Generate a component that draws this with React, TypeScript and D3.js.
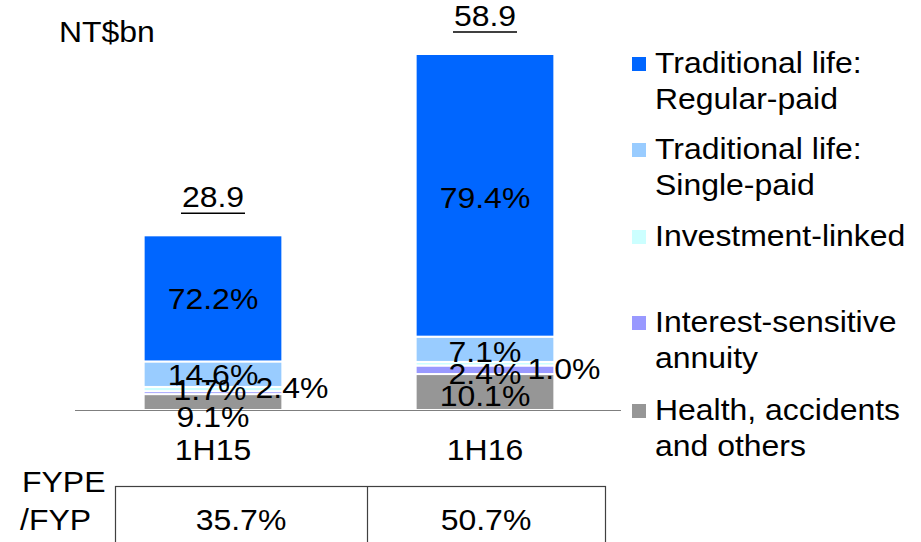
import React from "react"
import * as d3 from "d3"

const categories = ["1H15", "1H16"]
const totals = [28.9, 58.9]
const fypeRatio = ["35.7%", "50.7%"]

// shares of each half-year total, in %
const health = [9.1, 10.1]
const interestSensitive = [1.7, 2.4]
const investmentLinked = [2.4, 1.0]
const singlePaid = [14.6, 7.1]
const regularPaid = [72.2, 79.4]

const seriesKeys = ["health", "interest", "investment", "single", "regular"]
const seriesShares: Record<string, number[]> = {
  health,
  interest: interestSensitive,
  investment: investmentLinked,
  single: singlePaid,
  regular: regularPaid,
}
const colors: Record<string, string> = {
  regular: "#0066ff",
  single: "#99ccff",
  investment: "#ccffff",
  interest: "#9999ff",
  health: "#969696",
}
const legendItems = [
  { key: "regular", lines: ["Traditional life:", "Regular-paid"] },
  { key: "single", lines: ["Traditional life:", "Single-paid"] },
  { key: "investment", lines: ["Investment-linked"] },
  { key: "interest", lines: ["Interest-sensitive", "annuity"] },
  { key: "health", lines: ["Health, accidents", "and others"] },
]

// small nudges where labels of thin segments were moved off the bar
const labelNudge: Record<string, [number, number][]> = {
  health: [[0, 14], [0, 3]],
  interest: [[-3, -3], [0, 3]],
  investment: [[79, -2], [79, 4]],
  single: [[0, 0], [0, 2]],
  regular: [[0, 0], [0, 2]],
}

const font = "'Liberation Sans', Arial, sans-serif"
const fs = 30
// the original text is a little wider than Arial at this size
const stretch = 1.065

function T({ x, y, anchor = "start", dy, children }: any) {
  return (
    <text
      transform={`translate(${x},${y}) scale(${stretch},1)`}
      textAnchor={anchor}
      dy={dy}
      fontSize={fs}
    >
      {children}
    </text>
  )
}

export default function App() {
  const W = 921
  const H = 542
  const baseY = 410

  const x = d3.scaleBand().domain(categories).range([77, 621]).paddingInner(0.49).paddingOuter(0.245)
  const y = d3.scaleLinear().domain([0, 58.9]).range([baseY, 54])

  const rows = categories.map((c, i) => {
    const r: any = { cat: c }
    seriesKeys.forEach(k => { r[k] = (seriesShares[k][i] / 100) * totals[i] })
    return r
  })
  const stacked = d3.stack().keys(seriesKeys)(rows)

  return (
    <svg width={W} height={H} style={{ position: "absolute", left: 0, top: 0, fontFamily: font }}>
      <rect width={W} height={H} fill="#fff" />
      <T x={59} y={42}>NT$bn</T>

      {stacked.map(s => (
        <g key={s.key}>
          {s.map((d, i) => (
            <rect
              key={i}
              x={x(categories[i])}
              y={y(d[1])}
              width={x.bandwidth()}
              height={y(d[0]) - y(d[1])}
              fill={colors[s.key]}
              stroke="#fff"
              strokeWidth={2}
            />
          ))}
        </g>
      ))}

      <line x1={75} x2={621} y1={baseY + 0.5} y2={baseY + 0.5} stroke="#7f7f7f" strokeWidth={1.2} />

      {stacked.map(s => (
        <g key={"l" + s.key}>
          {s.map((d, i) => {
            const [dx, dy] = labelNudge[s.key][i]
            const cx = (x(categories[i]) as number) + x.bandwidth() / 2 + dx
            const cy = (y(d[0]) + y(d[1])) / 2 + dy
            return (
              <T key={i} x={cx} y={cy} dy="0.36em" anchor="middle">
                {seriesShares[s.key][i].toFixed(1)}%
              </T>
            )
          })}
        </g>
      ))}

      {categories.map((c, i) => {
        const cx = (x(c) as number) + x.bandwidth() / 2
        const ty = y(totals[i]) - 28
        return (
          <g key={c}>
            <T x={cx} y={ty} anchor="middle">{totals[i].toFixed(1)}</T>
            <line x1={cx - 32} x2={cx + 32} y1={ty + 6} y2={ty + 6} stroke="#000" strokeWidth={1.5} />
            <T x={cx} y={baseY + 50} anchor="middle">{c}</T>
          </g>
        )
      })}

      <T x={22} y={492}>FYPE</T>
      <T x={20} y={530}>/FYP</T>
      <rect x={115.5} y={486.5} width={490} height={80} fill="none" stroke="#404040" strokeWidth={1.2} />
      <line x1={367.5} x2={367.5} y1={486} y2={H} stroke="#404040" strokeWidth={1.2} />
      {fypeRatio.map((v, i) => (
        <T key={v} x={i === 0 ? 241 : 486} y={530} anchor="middle">{v}</T>
      ))}

      {legendItems.map((it, i) => {
        const tops = [57, 143, 230, 316, 404]
        return (
          <g key={it.key}>
            <rect x={632} y={tops[i]} width={14} height={14} fill={colors[it.key]} />
            {it.lines.map((ln, j) => (
              <T key={j} x={655} y={tops[i] + 16 + j * 36}>{ln}</T>
            ))}
          </g>
        )
      })}
    </svg>
  )
}
